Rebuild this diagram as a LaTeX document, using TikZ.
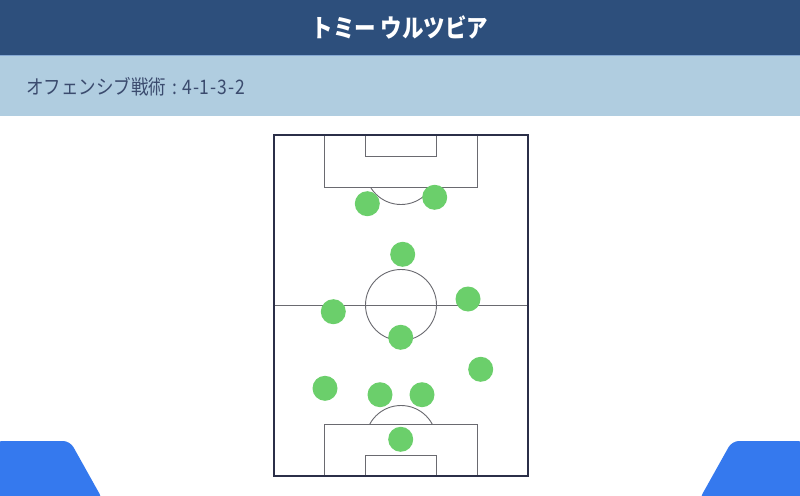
\documentclass[tikz,border=0pt]{standalone}
\usepackage{fontspec}
\usepackage{graphicx}
\newfontfamily\jpfont{Noto Sans CJK JP}
\definecolor{hdrdark}{HTML}{2D4F7C}
\definecolor{hdrlight}{HTML}{B0CDE0}
\definecolor{hdrline}{HTML}{86A9D4}
\definecolor{subtxt}{HTML}{3B4B6E}
\definecolor{pitchedge}{HTML}{2B2F48}
\definecolor{pitchline}{HTML}{6A6A70}
\definecolor{playergreen}{HTML}{6BCF6B}
\definecolor{tabblue}{HTML}{3579EE}
\tikzset{
  player/.style={circle, fill=playergreen, draw=none, minimum size=25pt, inner sep=0pt},
  outerline/.style={draw=pitchedge, line width=1.4pt},
  innerline/.style={draw=pitchline, line width=0.9pt},
}
\begin{document}
\begin{tikzpicture}[x=1pt,y=-1pt]
\useasboundingbox (0,0) rectangle (800,495);
\fill[white] (0,0) rectangle (800,495);
% header
\fill[hdrdark] (0,0) rectangle (800,55);
\fill[hdrlight] (0,56) rectangle (800,116);
\draw[hdrline, line width=1.2pt] (0,55.6) -- (800,55.6);
\node[text=white, inner sep=0pt, font={\jpfont\bfseries\fontsize{25}{27}\selectfont}] (title) at (400,27.5) {\scalebox{0.86}[1]{トミー ウルツビア}};
\node[anchor=west, text=subtxt, inner sep=0pt, font={\jpfont\fontsize{20}{22}\selectfont}] (sub) at (26,86.5) {\scalebox{0.875}[1]{オフェンシブ戦術\kern7pt:\kern6pt4\kern1pt-\kern1pt1\kern1pt-\kern1pt3\kern1pt-\kern1pt2}};
% bottom tabs
\fill[tabblue, rounded corners=7pt] (-5,441) -- (70,441) -- (103,500) -- (-5,500) -- cycle;
\fill[tabblue, rounded corners=7pt] (805,441) -- (732,441) -- (699,500) -- (805,500) -- cycle;
% pitch
\draw[innerline] (274,305) -- (528,305);
\draw[innerline] (401,305) circle[radius=35.5];
\draw[innerline] (324.5,135) rectangle (477.5,187);
\draw[innerline] (365.5,135) rectangle (436.5,156);
\draw[innerline] (324.5,476) rectangle (477.5,424);
\draw[innerline] (365.5,476) rectangle (436.5,455);
\begin{scope}
\clip (274,187) rectangle (528,260);
\draw[innerline] (401,169) circle[radius=35.5];
\end{scope}
\begin{scope}
\clip (274,350) rectangle (528,424);
\draw[innerline] (401,441) circle[radius=35.5];
\end{scope}
\draw[outerline] (274,135) rectangle (528,476);
% players
\node[player] (p1) at (367.3,203.7) {};
\node[player] (p2) at (434.7,197.3) {};
\node[player] (p3) at (402.7,254.3) {};
\node[player] (p4) at (468,299) {};
\node[player] (p5) at (333.3,311.7) {};
\node[player] (p6) at (400.7,337.3) {};
\node[player] (p7) at (480.7,369.3) {};
\node[player] (p8) at (325,388.3) {};
\node[player] (p9) at (380,394.7) {};
\node[player] (p10) at (422,394.7) {};
\node[player] (p11) at (400.7,439.3) {};
\end{tikzpicture}
\end{document}
